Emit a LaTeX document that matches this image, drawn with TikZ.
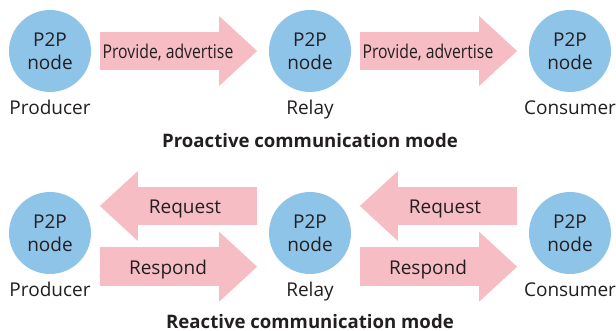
\documentclass[tikz,border=0pt]{standalone}
\usepackage{fontspec}
\setmainfont{Open Sans}
\usetikzlibrary{calc,arrows.meta}
\definecolor{NodeBlue}{HTML}{8FC4E9}
\definecolor{ArrowPink}{HTML}{F7BDC5}
\definecolor{TextGray}{HTML}{231F20}
\tikzset{%
	% Style of the node
	Node/.style={circle,fill=NodeBlue,inner sep=0, minimum size=82pt,align=center,text=TextGray,font=\fontsize{19}{23.4}\selectfont},
	% Style of the node label
	NodeName/.style={font=\fontsize{19}{23}\selectfont,text=TextGray,anchor=base,inner sep=0},
	% Style of the branche label
	ArrowName/.style={font=\fontsize{19}{23}\selectfont,text=TextGray,anchor=base,inner sep=0,yshift=-8pt},
	% Style of the mode title
	ModeName/.style={font=\bfseries\fontsize{18.6}{22}\selectfont,text=TextGray,anchor=base,inner sep=0},
	% Style of the branch
	Connection/.style={ArrowPink,line width=38.5pt,-{Triangle[length=38pt,width=70pt,line width=0pt]}},
}

\begin{document}
\begin{tikzpicture}[x=1pt,y=-1pt]
\useasboundingbox (0,0) rectangle (616,331);

%~~~~~~~~~~~~~~~~~~~~~~~~~~~~~~~~~~~~~~~~~~~~~~~~~~
% Set Nodes
%~~~~~~~~~~~~~~~~~~~~~~~~~~~~~~~~~~~~~~~~~~~~~~~~~~
% proactive mode
\node[Node] (N1) at (50, 51) {P2P\\node};
\node[NodeName] at ($ (N1) + (0, 64) $) {Producer};

\node[Node] (N2) at (310, 51) {P2P\\node};
\node[NodeName] at ($ (N2) + (0, 64) $) {Relay};

\node[Node] (N3) at (570, 51) {P2P\\node};
\node[NodeName] at ($ (N3) + (0, 64) $) {Consumer};

\node[ModeName] (M1) at (310, 148) {Proactive communication mode};

% reactive mode
\node[Node] (N4) at (50, 233) {P2P\\node};
\node[NodeName] at ($ (N4) + (0, 63) $) {Producer};

\node[Node] (N5) at (310, 233) {P2P\\node};
\node[NodeName] at ($ (N5) + (0, 63) $) {Relay};

\node[Node] (N6) at (570, 233) {P2P\\node};
\node[NodeName] at ($ (N6) + (0, 63) $) {Consumer};

\node[ModeName] (M2) at (310, 328) {Reactive communication mode};



%~~~~~~~~~~~~~~~~~~~~~~~~~~~~~~~~~~~~~~~~~~~~~~~~~~
% Set Branches
%~~~~~~~~~~~~~~~~~~~~~~~~~~~~~~~~~~~~~~~~~~~~~~~~~~
%Branch from Node N1 to Node N2
\draw [Connection] ($ (N1.east) + (8.7, 0) $) -- node[ArrowName, xshift=-10.5pt] {\scalebox{0.83}[1]{Provide, advertise}} ($ (N2.west) + (-11.7, 0) $);

%Branch from Node N2 to Node N3
\draw [Connection] ($ (N2.east) + (8.7, 0) $) -- node[ArrowName, xshift=-10.5pt] {\scalebox{0.83}[1]{Provide, advertise}} ($ (N3.west) + (-11.7, 0) $);

%Branch from Node N5 to Node N4
\draw [Connection] ($ (N5.west) + (-11.7, -27) $) -- node[ArrowName, xshift=6.5pt] {Request} ($ (N4.east) + (8.7, -27) $);

%Branch from Node N4 to Node N5
\draw [Connection] ($ (N4.east) + (8.7, 33.7) $) -- node[ArrowName, xshift=-10.5pt] {Respond} ($ (N5.west) + (-11.7, 33.7) $);

%Branch from Node N6 to Node N5
\draw [Connection] ($ (N6.west) + (-11.7, -27) $) -- node[ArrowName, xshift=6.5pt] {Request} ($ (N5.east) + (8.7, -27) $);

%Branch from Node N5 to Node N6
\draw [Connection] ($ (N5.east) + (8.7, 33.7) $) -- node[ArrowName, xshift=-10.5pt] {Respond} ($ (N6.west) + (-11.7, 33.7) $);

\end{tikzpicture}
\end{document}
